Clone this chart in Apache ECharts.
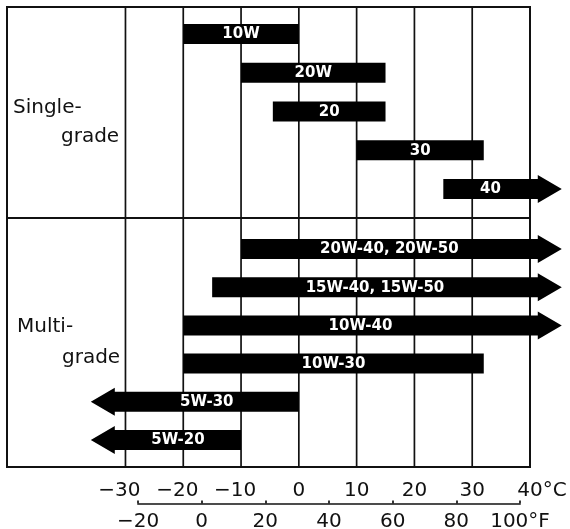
<!DOCTYPE html>
<html>
<head>
<meta charset="utf-8">
<script src="https://cdn.jsdelivr.net/npm/echarts@6/dist/echarts.min.js"></script>
<style>
  html, body { margin: 0; padding: 0; background: #fff; }
  #chart { width: 570px; height: 529px; }
</style>
</head>
<body>
<div id="chart"></div>
<script>
// ---- data (°C ranges; null = open-ended, drawn as an arrow) ----
const SINGLE_GRADES = ['10W', '20W', '20', '30', '40'];
const SINGLE_LOW_C  = [-20, -10, -4.5, 10, 25];
const SINGLE_HIGH_C = [0, 15, 15, 32, null];

const MULTI_GRADES = ['20W-40, 20W-50', '15W-40, 15W-50', '10W-40', '10W-30', '5W-30', '5W-20'];
const MULTI_LOW_C  = [-10, -15, -20, -20, null, null];
const MULTI_HIGH_C = [null, null, null, 32, 0, -10];

const CELSIUS_TICKS = [-30, -20, -10, 0, 10, 20, 30, 40];
const GRID_LINES_C = [-30, -20, -10, 0, 10, 20, 30];
const FAHRENHEIT_TICKS = [-20, 0, 20, 40, 60, 80, 100];
const SECTION_LABELS = [['Single-', 'grade'], ['Multi-', 'grade']];

// ---- layout / style constants ----
const X_MIN = -50.5, X_MAX = 40;
const ARROW_LO = -36, ARROW_HI = 45.5;
const INK = '#111';
const FONT = 'DejaVu Sans';
const BAR_H = 20, HEAD_H = 28, HEAD_L = 24;

function buildData(low, high) {
  return low.map((lo, i) => {
    const hi = high[i];
    return [lo === null ? ARROW_LO : lo, hi === null ? ARROW_HI : hi, i, lo === null ? 1 : 0, hi === null ? 1 : 0];
  });
}

function makeBarRenderer(labels) {
  return function (params, api) {
    const lo = api.value(0), hi = api.value(1), cat = api.value(2);
    const openLo = api.value(3) === 1, openHi = api.value(4) === 1;
    const p0 = api.coord([lo, cat]);
    const p1 = api.coord([hi, cat]);
    const y = p0[1], xl = p0[0], xr = p1[0];
    const bl = openLo ? xl + HEAD_L : xl;
    const br = openHi ? xr - HEAD_L : xr;
    const pts = [[bl, y - BAR_H / 2], [br, y - BAR_H / 2]];
    if (openHi) pts.push([br, y - HEAD_H / 2], [xr, y], [br, y + HEAD_H / 2]);
    pts.push([br, y + BAR_H / 2], [bl, y + BAR_H / 2]);
    if (openLo) pts.push([bl, y + HEAD_H / 2], [xl, y], [bl, y - HEAD_H / 2]);
    return {
      type: 'group',
      children: [
        { type: 'polygon', shape: { points: pts }, style: { fill: '#000' } },
        {
          type: 'text', x: (bl + br) / 2, y: y + 0.5,
          style: {
            text: labels[params.dataIndex], fill: '#fff', font: 'bold 15px ' + FONT,
            align: 'center', verticalAlign: 'middle', textAlign: 'center', textVerticalAlign: 'middle'
          }
        }
      ]
    };
  };
}

function renderVLine(params, api) {
  const v = api.value(0);
  const a = api.coord([v, 0]);
  const b = api.coord([v, 1]);
  return { type: 'line', shape: { x1: a[0], y1: a[1], x2: b[0], y2: b[1] }, style: { stroke: INK, lineWidth: 1.7 } };
}

function fmtC(v) {
  if (v < 0) return '−' + Math.abs(v) + '{h| }';
  if (v === 40) return '{h2|°C}' + v + '°C';
  return String(v);
}
function fmtF(v) {
  if (v < 0) return '−' + Math.abs(v);
  if (v === 100) return v + '°F';
  return String(v);
}

const hiddenX = (g) => ({ gridIndex: g, type: 'value', min: X_MIN, max: X_MAX, show: false, splitLine: { show: false } });

const chart = echarts.init(document.getElementById('chart'), null, { renderer: 'canvas' });
const option = {
  animation: false,
  backgroundColor: '#fff',
  grid: [
    { left: 7, right: 40, top: 7, height: 460, show: true, borderColor: INK, borderWidth: 2, backgroundColor: 'transparent' },
    { left: 7, right: 40, top: 7, height: 211, show: true, borderColor: INK, borderWidth: 2, backgroundColor: 'transparent' },
    { left: 7, right: 40, top: 14.6, height: 193.75 },
    { left: 7, right: 40, top: 229.9, height: 229.2 },
    { left: 138, width: 382, top: 503, height: 2 }
  ],
  xAxis: [
    {
      gridIndex: 0, type: 'value', min: X_MIN, max: X_MAX,
      axisLine: { show: false }, axisTick: { show: false }, splitLine: { show: false },
      axisLabel: {
        customValues: CELSIUS_TICKS, formatter: fmtC, margin: 14,
        showMinLabel: true, showMaxLabel: true, hideOverlap: false,
        color: INK, fontSize: 20, fontFamily: FONT,
        rich: {
          h: { color: 'rgba(0,0,0,0)', fontSize: 20, fontFamily: FONT, width: 12 },
          h2: { color: 'rgba(0,0,0,0)', fontSize: 20, fontFamily: FONT }
        }
      }
    },
    hiddenX(1), hiddenX(2), hiddenX(3),
    {
      gridIndex: 4, type: 'value', min: -20, max: 100, interval: 20,
      axisLine: { show: true, lineStyle: { color: INK, width: 1.7 } },
      axisTick: { show: true, inside: true, length: 3, lineStyle: { color: INK, width: 1.7 } },
      splitLine: { show: false },
      axisLabel: {
        customValues: FAHRENHEIT_TICKS, formatter: fmtF, margin: 8,
        showMinLabel: true, showMaxLabel: true, hideOverlap: false,
        color: INK, fontSize: 20, fontFamily: FONT
      }
    }
  ],
  yAxis: [
    { gridIndex: 0, type: 'value', min: 0, max: 1, show: false },
    { gridIndex: 1, type: 'value', min: 0, max: 1, show: false },
    { gridIndex: 2, type: 'category', data: SINGLE_GRADES, inverse: true, show: false },
    { gridIndex: 3, type: 'category', data: MULTI_GRADES, inverse: true, show: false },
    { gridIndex: 4, type: 'value', min: 0, max: 1, show: false }
  ],
  series: [
    {
      type: 'custom', name: 'grid lines', xAxisIndex: 0, yAxisIndex: 0, silent: true, z: 1,
      data: GRID_LINES_C.map(v => [v]), renderItem: renderVLine
    },
    {
      type: 'custom', name: 'Single-grade', xAxisIndex: 2, yAxisIndex: 2, z: 5, clip: false,
      data: buildData(SINGLE_LOW_C, SINGLE_HIGH_C), encode: { x: [0, 1], y: 2 },
      renderItem: makeBarRenderer(SINGLE_GRADES)
    },
    {
      type: 'custom', name: 'Multi-grade', xAxisIndex: 3, yAxisIndex: 3, z: 5, clip: false,
      data: buildData(MULTI_LOW_C, MULTI_HIGH_C), encode: { x: [0, 1], y: 2 },
      renderItem: makeBarRenderer(MULTI_GRADES)
    }
  ],
  graphic: [
    { type: 'text', x: 13, y: 108, style: { text: SECTION_LABELS[0][0], fill: INK, font: '20px ' + FONT, verticalAlign: 'middle', textVerticalAlign: 'middle' } },
    { type: 'text', x: 61, y: 137, style: { text: SECTION_LABELS[0][1], fill: INK, font: '20px ' + FONT, verticalAlign: 'middle', textVerticalAlign: 'middle' } },
    { type: 'text', x: 17, y: 327, style: { text: SECTION_LABELS[1][0], fill: INK, font: '20px ' + FONT, verticalAlign: 'middle', textVerticalAlign: 'middle' } },
    { type: 'text', x: 62, y: 358, style: { text: SECTION_LABELS[1][1], fill: INK, font: '20px ' + FONT, verticalAlign: 'middle', textVerticalAlign: 'middle' } }
  ]
};
chart.setOption(option);
</script>
</body>
</html>
